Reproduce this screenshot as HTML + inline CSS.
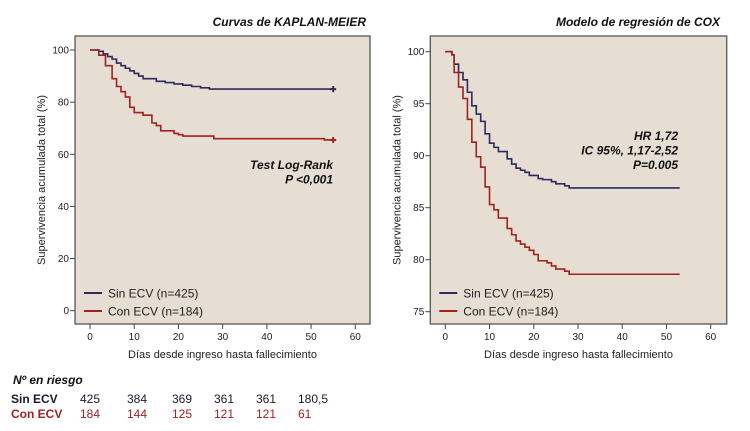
<!DOCTYPE html>
<html><head><meta charset="utf-8"><style>
body{margin:0;background:#fff;width:750px;height:426px;overflow:hidden}
svg text{font-family:"Liberation Sans",Arial,sans-serif}
</style></head><body>
<svg id="svg" width="750" height="426" xmlns="http://www.w3.org/2000/svg"></svg>
<script>
// ---- Data ----
const kmBlueDays = [0,2,3,4,5,6,7,8,9,10,11,12,15,17,19,21,23,25,27,55];
const kmBlueVals = [100,99.5,98.5,97.5,96.5,95,94,93,92,91,90,89,88,87.5,87,86.5,86,85.5,85,85];
const kmRedDays = [0,2,3.5,5,6,7,8,9,10,12,14,15,16,19,20,21,28,53,55];
const kmRedVals = [100,98,94,89,86,84,82,78,76,75,72,71,69,68,67.5,67,66,65.5,65.5];
const coxBlueDays = [0,1.5,2,3,4,5,6,7,8,9,10,11,12,14,15,16,17,18,19,21,22,24,25,27,28,53];
const coxBlueVals = [100,99.7,98.8,98,97.3,96.1,94.8,94,93.3,92.1,91.2,90.8,90.4,89.7,89.2,88.8,88.6,88.4,88.1,87.8,87.7,87.5,87.3,87.1,86.9,86.9];
const coxRedDays = [0,1.5,2,3,4,5,6,7,8,9,10,11,12,14,15,16,17,18,19,20,21,23,24,25,27,28,53];
const coxRedVals = [100,99.7,98,96.6,95.5,93.5,91.3,89.9,88.9,87,85.3,84.8,84,83,82.4,81.8,81.5,81.2,80.9,80.5,79.9,79.7,79.4,79.1,78.9,78.6,78.6];
const xTicks = [0,10,20,30,40,50,60];
const kmYTicks = [0,20,40,60,80,100];
const coxYTicks = [75,80,85,90,95,100];
const riskSin = ["425","384","369","361","361","180,5"];
const riskCon = ["184","144","125","121","121","61"];

const NS="http://www.w3.org/2000/svg";
const svg=document.getElementById('svg');
const BLUE="#2c2b5c", RED="#a1231f";
function mk(tag,attrs,parent){const e=document.createElementNS(NS,tag);for(const k in attrs)e.setAttribute(k,attrs[k]);(parent||svg).appendChild(e);return e;}
function txt(s,attrs,parent){const e=mk('text',attrs,parent);e.textContent=s;return e;}

function panel(cfg){
  const g=mk('g',{});
  
  
  const xs=d=>cfg.x0+(d-0)*(cfg.x60-cfg.x0)/60;
  const ys=v=>cfg.yTop+(cfg.vTop-v)*(cfg.yBot-cfg.yTop)/(cfg.vTop-cfg.vBot);
  const bg=mk('rect',{x:cfg.bx0,y:36,width:cfg.bx1-cfg.bx0,height:288,fill:"#e6ddd3",stroke:"#555",'stroke-width':1.3},g);
  
  const t=txt(cfg.title,{x:cfg.titleX,y:26,'font-size':12,'font-weight':'bold','font-style':'italic','text-anchor':'end',fill:'#111'},g);
  
  xTicks.forEach(d=>{const x=xs(d);
    mk('line',{x1:x,x2:x,y1:324,y2:329,stroke:'#444'},g);
    const l=txt(String(d),{x:x,y:340,'font-size':10,'text-anchor':'middle',fill:'#222'},g);
    
  });
  cfg.yTicks.forEach(v=>{const y=ys(v);
    mk('line',{x1:cfg.bx0-5,x2:cfg.bx0,y1:y,y2:y,stroke:'#444'},g);
    const l=txt(String(v),{x:cfg.bx0-6,y:y+3.5,'font-size':10,'text-anchor':'end',fill:'#222'},g);
    
  });
  const xt=txt('Días desde ingreso hasta fallecimiento',{x:(cfg.bx0+cfg.bx1)/2,y:358,'font-size':11,'text-anchor':'middle',fill:'#222'},g);
  
  const yx=cfg.bx0-30;
  const yt=txt('Supervivencia acumulada total (%)',{x:yx,y:180,'font-size':11,'text-anchor':'middle',fill:'#222',transform:`rotate(-90 ${yx} 180)`},g);
  
  function step(days,vals,color,name,marker){
    let d=`M${xs(days[0])},${ys(vals[0])}`;
    for(let i=1;i<days.length;i++){d+=` H${xs(days[i])} V${ys(vals[i])}`;}
    const p=mk('path',{d:d,fill:'none',stroke:color,'stroke-width':1.6},g);
    
    if(marker){const n=days.length-1;
      const c=mk('path',{d:`M${xs(days[n])-3},${ys(vals[n])} h6 M${xs(days[n])},${ys(vals[n])-3} v6`,stroke:color,'stroke-width':2},g);
      }
  }
  step(cfg.bD,cfg.bV,BLUE,'series-sin-ecv',cfg.marker);
  step(cfg.rD,cfg.rV,RED,'series-con-ecv',cfg.marker);
  const lx=cfg.bx0+9;
  [[BLUE,'Sin ECV (n=425)',293],[RED,'Con ECV (n=184)',311]].forEach(([c,s,y])=>{
    const lg=mk('g',{},g);
    
    mk('line',{x1:lx,x2:lx+18,y1:y,y2:y,stroke:c,'stroke-width':2},lg);
    txt(s,{x:lx+24,y:y+4.5,'font-size':12,fill:'#222'},lg);
  });
  const ag=mk('g',{},g);
  
  cfg.ann.forEach((s,i)=>txt(s,{x:cfg.annX,y:cfg.annY+i*14.5,'font-size':12,'font-weight':'bold','font-style':'italic','text-anchor':'end',fill:'#111'},ag));
}

panel({name:'kaplan-meier-chart',title:'Curvas de KAPLAN-MEIER',titleX:366,bx0:75,bx1:370,x0:90,x60:355.3,yTop:50,vTop:100,yBot:310.7,vBot:0,
  yTicks:kmYTicks,bD:kmBlueDays,bV:kmBlueVals,rD:kmRedDays,rV:kmRedVals,marker:true,
  ann:['Test Log-Rank','P <0,001'],annX:333,annY:169});
panel({name:'cox-regression-chart',title:'Modelo de regresión de COX',titleX:720,bx0:430.3,bx1:726.7,x0:445.3,x60:710.7,yTop:51.7,vTop:100,yBot:311.7,vBot:75,
  yTicks:coxYTicks,bD:coxBlueDays,bV:coxBlueVals,rD:coxRedDays,rV:coxRedVals,marker:false,
  ann:['HR 1,72','IC 95%, 1,17-2,52','P=0.005'],annX:678,annY:140});

// risk table
const tg=mk('g',{});


txt('Nº en riesgo',{x:13,y:384,'font-size':12,'font-weight':'bold','font-style':'italic',fill:'#111'},tg);
txt('Sin ECV',{x:11,y:403,'font-size':12,'font-weight':'bold',fill:'#1a1a2e'},tg);
txt('Con ECV',{x:11,y:418,'font-size':12,'font-weight':'bold',fill:RED},tg);
const colX=[80,127,172,214,256,298];
riskSin.forEach((s,i)=>txt(s,{x:colX[i],y:403,'font-size':12,fill:'#1a1a2e'},tg));
riskCon.forEach((s,i)=>txt(s,{x:colX[i],y:418,'font-size':12,fill:RED},tg));
</script>
</body></html>
